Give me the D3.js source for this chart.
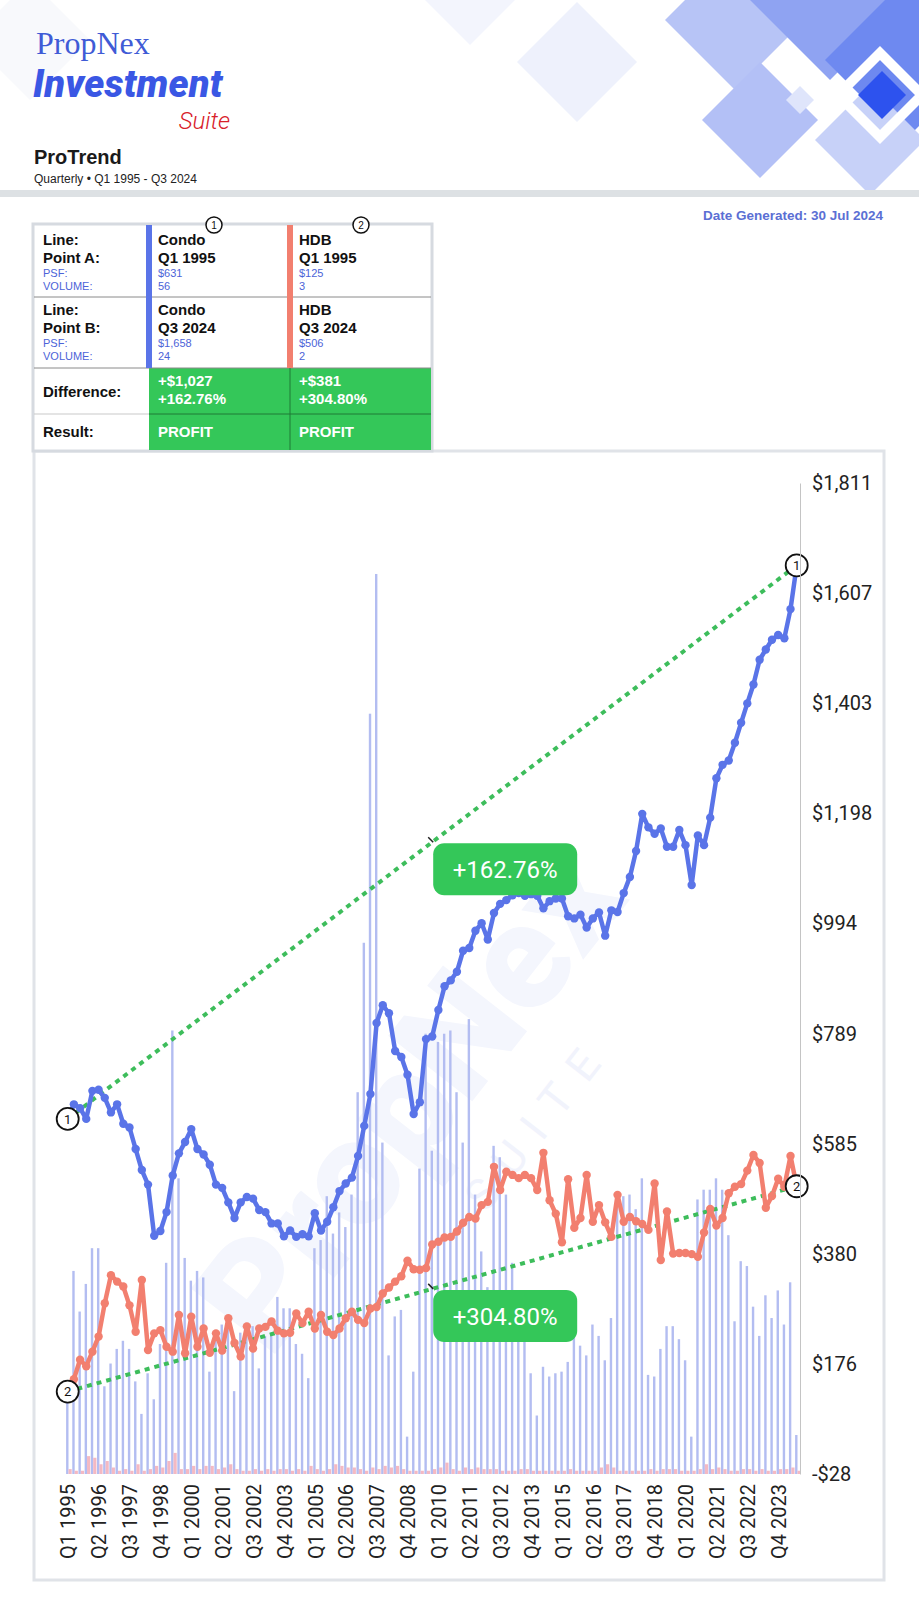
<!DOCTYPE html>
<html>
<head>
<meta charset="utf-8">
<script src="https://cdn.jsdelivr.net/npm/d3@7/dist/d3.min.js"></script>
<style>
  body { margin: 0; background: #fff; }
  svg { display: block; }
</style>
</head>
<body>
<div id="chart"></div>
<script>
// ---- data ----
var quarters = [
  "Q1 1995","Q2 1995","Q3 1995","Q4 1995","Q1 1996","Q2 1996","Q3 1996","Q4 1996",
  "Q1 1997","Q2 1997","Q3 1997","Q4 1997","Q1 1998","Q2 1998","Q3 1998","Q4 1998",
  "Q1 1999","Q2 1999","Q3 1999","Q4 1999","Q1 2000","Q2 2000","Q3 2000","Q4 2000",
  "Q1 2001","Q2 2001","Q3 2001","Q4 2001","Q1 2002","Q2 2002","Q3 2002","Q4 2002",
  "Q1 2003","Q2 2003","Q3 2003","Q4 2003","Q1 2004","Q2 2004","Q3 2004","Q4 2004",
  "Q1 2005","Q2 2005","Q3 2005","Q4 2005","Q1 2006","Q2 2006","Q3 2006","Q4 2006",
  "Q1 2007","Q2 2007","Q3 2007","Q4 2007","Q1 2008","Q2 2008","Q3 2008","Q4 2008",
  "Q1 2009","Q2 2009","Q3 2009","Q4 2009","Q1 2010","Q2 2010","Q3 2010","Q4 2010",
  "Q1 2011","Q2 2011","Q3 2011","Q4 2011","Q1 2012","Q2 2012","Q3 2012","Q4 2012",
  "Q1 2013","Q2 2013","Q3 2013","Q4 2013","Q1 2014","Q2 2014","Q3 2014","Q4 2014",
  "Q1 2015","Q2 2015","Q3 2015","Q4 2015","Q1 2016","Q2 2016","Q3 2016","Q4 2016",
  "Q1 2017","Q2 2017","Q3 2017","Q4 2017","Q1 2018","Q2 2018","Q3 2018","Q4 2018",
  "Q1 2019","Q2 2019","Q3 2019","Q4 2019","Q1 2020","Q2 2020","Q3 2020","Q4 2020",
  "Q1 2021","Q2 2021","Q3 2021","Q4 2021","Q1 2022","Q2 2022","Q3 2022","Q4 2022",
  "Q1 2023","Q2 2023","Q3 2023","Q4 2023","Q1 2024","Q2 2024","Q3 2024"
];

var condoPsf = [
  631,658,651,631,683,685,670,643,658,622,
  615,575,536,509,414,423,458,526,567,588,
  612,575,565,546,509,503,476,447,476,486,
  483,462,458,437,437,413,424,412,417,413,
  456,424,440,467,497,511,522,562,618,677,
  809,842,827,757,746,713,640,662,779,784,
  833,877,888,904,943,948,980,994,964,1013,
  1030,1037,1046,1050,1045,1048,1045,1022,1035,1040,
  1040,1007,1003,1010,986,1003,1014,971,1018,1015,
  1050,1080,1128,1197,1172,1160,1170,1136,1136,1167,
  1139,1065,1157,1139,1190,1263,1288,1296,1329,1366,
  1402,1437,1483,1502,1520,1529,1523,1577,1658
];

var hdbPsf = [
  125,148,184,172,199,227,289,341,329,320,
  285,236,332,202,233,239,208,199,267,196,
  264,208,242,197,233,201,261,215,190,246,
  205,242,245,255,238,233,234,270,252,273,
  242,267,236,230,242,261,273,258,252,279,
  282,307,318,329,339,368,352,351,354,398,
  403,411,412,422,438,449,446,471,477,542,
  499,533,527,521,527,521,499,568,480,455,
  402,519,429,447,527,440,471,439,412,490,
  440,449,441,436,425,511,369,459,381,382,
  382,380,375,420,464,433,447,493,505,510,
  535,564,549,466,488,520,505,562,506
];

var condoVol = [
  56,125,100,117,139,139,54,68,77,82,
  77,57,37,62,46,80,130,273,182,133,
  119,125,121,63,85,92,91,51,87,93,
  91,65,85,87,109,102,102,80,74,59,
  139,144,171,148,161,152,172,235,327,468,
  554,204,73,97,101,23,63,188,271,199,
  266,271,273,235,204,280,172,137,115,202,
  195,172,130,108,85,62,36,66,60,62,
  63,69,91,79,73,92,85,70,96,174,
  171,172,163,182,61,60,77,91,91,83,
  70,23,169,175,175,182,175,147,94,131,
  128,103,85,110,96,113,92,118,24
];

var hdbVol = [
  3,2,2,11,10,6,8,4,2,3,
  2,6,2,3,5,4,8,13,3,3,
  5,3,5,5,3,4,6,3,2,2,
  3,2,3,2,3,3,2,3,2,5,
  3,2,3,6,5,4,4,3,2,4,
  3,5,4,5,3,2,2,2,2,3,
  4,7,3,2,4,3,4,3,3,3,
  2,2,2,3,3,2,2,2,2,2,
  2,3,2,2,2,2,4,6,4,2,
  2,2,2,2,3,2,3,3,3,2,
  2,2,3,6,3,4,3,2,2,3,
  3,2,3,2,2,3,3,4,2
];

var xTickLabels = ["Q1 1995","Q2 1996","Q3 1997","Q4 1998","Q1 2000","Q2 2001","Q3 2002","Q4 2003",
  "Q1 2005","Q2 2006","Q3 2007","Q4 2008","Q1 2010","Q2 2011","Q3 2012","Q4 2013",
  "Q1 2015","Q2 2016","Q3 2017","Q4 2018","Q1 2020","Q2 2021","Q3 2022","Q4 2023"];
var yTickValues = [-28, 176, 380, 585, 789, 994, 1198, 1403, 1607, 1811];

// comparison table
var tableCols = [
  {num: "1", line: "Condo", a: "Q1 1995", psfA: "$631", volA: "56", b: "Q3 2024", psfB: "$1,658", volB: "24",
   diff: "+$1,027", pct: "+162.76%", result: "PROFIT"},
  {num: "2", line: "HDB", a: "Q1 1995", psfA: "$125", volA: "3", b: "Q3 2024", psfB: "$506", volB: "2",
   diff: "+$381", pct: "+304.80%", result: "PROFIT"}
];

var blue = "#5a74e8", salmon = "#f27f6f", green = "#34c759";

var width = 919, height = 1600;

var svg = d3.select("#chart").append("svg")
  .attr("width", width)
  .attr("height", height)
  .style("font-family", "Roboto, 'Liberation Sans', sans-serif");

// ---- header ----
var deco = svg.append("g");
var diamonds = [
  {cx: 577, cy: 62, r: 60, fill: "#eef1fc"},
  {cx: 470, cy: -5, r: 50, fill: "#f3f5fd"},
  {cx: 30, cy: 40, r: 60, fill: "#f8f9fc"},
  {cx: 735, cy: 20, r: 70, fill: "#b7c4f6"},
  {cx: 830, cy: 0, r: 80, fill: "#8fa3f2"},
  {cx: 760, cy: 120, r: 58, fill: "#b3c0f6"},
  {cx: 905, cy: 60, r: 80, fill: "#6e89f0"},
  {cx: 870, cy: 140, r: 55, fill: "#c7d1f8"},
  {cx: 880, cy: 95, r: 42, fill: "none", stroke: "#fff", sw: 10},
  {cx: 882, cy: 95, r: 24, fill: "#2d52ee"},
  {cx: 800, cy: 100, r: 14, fill: "#dfe5fb"}
];
deco.selectAll("path").data(diamonds).enter().append("path")
  .attr("d", function(d) {
    return "M" + (d.cx - d.r) + "," + d.cy + "L" + d.cx + "," + (d.cy - d.r) +
      "L" + (d.cx + d.r) + "," + d.cy + "L" + d.cx + "," + (d.cy + d.r) + "Z";
  })
  .attr("fill", function(d) { return d.fill; })
  .attr("stroke", function(d) { return d.stroke || "none"; })
  .attr("stroke-width", function(d) { return d.sw || 0; });

// logo
svg.append("text").attr("x", 36).attr("y", 54)
  .style("font-family", "'Liberation Serif', serif").style("font-size", "32px")
  .attr("fill", "#3f5bd6").text("PropNex");
svg.append("text").attr("x", 33).attr("y", 97)
  .style("font-family", "Roboto, sans-serif").style("font-size", "38px")
  .style("font-weight", 900).style("font-style", "italic").style("letter-spacing", "0.2px")
  .attr("fill", "#3a57e4").text("Investment");
svg.append("text").attr("x", 230).attr("y", 129).attr("text-anchor", "end")
  .style("font-family", "Roboto, sans-serif").style("font-size", "24px")
  .style("font-style", "italic").style("font-weight", 300)
  .attr("fill", "#d8202a").text("Suite");

svg.append("text").attr("x", 34).attr("y", 164)
  .style("font-family", "'Liberation Sans', Arial, sans-serif").style("font-size", "20px")
  .style("font-weight", "bold").attr("fill", "#1a1a1a").text("ProTrend");
svg.append("text").attr("x", 34).attr("y", 183)
  .style("font-family", "'Liberation Sans', Arial, sans-serif").style("font-size", "12px")
  .attr("fill", "#222").text("Quarterly \u2022 Q1 1995 - Q3 2024");

svg.append("rect").attr("x", 0).attr("y", 190).attr("width", width).attr("height", 7)
  .attr("fill", "#dde1e4");

svg.append("text").attr("x", 883).attr("y", 220).attr("text-anchor", "end")
  .style("font-family", "'Liberation Sans', Arial, sans-serif").style("font-size", "13.5px")
  .style("font-weight", "bold").attr("fill", "#5b6fd4").text("Date Generated: 30 Jul 2024");

// ---- chart panel ----
svg.append("rect").attr("x", 34).attr("y", 451).attr("width", 850).attr("height", 1129)
  .attr("fill", "#fff").attr("stroke", "#e0e3e8").attr("stroke-width", 3);

// watermark
var wm = svg.append("g").attr("transform", "translate(450,1130) rotate(-52)");
wm.append("text").attr("text-anchor", "middle")
  .style("font-family", "Roboto, sans-serif").style("font-size", "150px").style("font-weight", 900)
  .attr("fill", "#f4f6fd").text("PropNex");
wm.append("text").attr("text-anchor", "middle").attr("x", 60).attr("y", 80)
  .style("font-family", "Roboto, sans-serif").style("font-size", "44px").style("letter-spacing", "18px")
  .attr("fill", "#f1f3fc").text("SUITE");

// ---- scales ----
var x = d3.scalePoint().domain(quarters).range([67.7, 796.7]);
var y = d3.scaleLinear().domain([-28, 1811]).range([1474, 483]);
var yVol = d3.scaleLinear().domain([0, 610]).range([1474, 483]);

var plot = svg.append("g");

// volume bars
plot.selectAll(".vol").data(condoVol).enter().append("rect")
  .attr("class", "vol")
  .attr("x", function(d, i) { return x(quarters[i]) - 1.6; })
  .attr("y", function(d) { return yVol(d); })
  .attr("width", 2.4)
  .attr("height", function(d) { return yVol(0) - yVol(d); })
  .attr("fill", "#b3bdf1");

plot.selectAll(".hvol").data(hdbVol).enter().append("rect")
  .attr("class", "hvol")
  .attr("x", function(d, i) { return x(quarters[i]) + 0.8; })
  .attr("y", function(d) { return yVol(d); })
  .attr("width", 3.2)
  .attr("height", function(d) { return yVol(0) - yVol(d); })
  .attr("fill", "#f4b9c3");

// axes
var yAxis = d3.axisRight(y).tickValues(yTickValues).tickSize(0).tickPadding(12)
  .tickFormat(function(d) { return (d < 0 ? "-$" : "$") + d3.format(",")(Math.abs(d)); });
var gy = svg.append("g").attr("transform", "translate(800,0)").call(yAxis);
gy.select(".domain").attr("stroke", "#c4c4c4");
gy.selectAll("text").style("font-size", "20px").style("font-family", "Roboto, sans-serif").attr("fill", "#222");

var xAxis = d3.axisBottom(x).tickValues(xTickLabels).tickSize(0);
var gx = svg.append("g").attr("transform", "translate(0,1474)").call(xAxis);
gx.select(".domain").remove();
gx.selectAll("text")
  .attr("transform", "rotate(-90)")
  .attr("x", -10).attr("y", 0).attr("dy", "0.36em")
  .style("text-anchor", "end")
  .style("font-size", "20px").style("font-family", "Roboto, sans-serif").attr("fill", "#222");

// trend lines (point A to point B)
var trends = [
  {series: condoPsf, label: tableCols[0].pct, num: "1"},
  {series: hdbPsf, label: tableCols[1].pct, num: "2"}
];
var last = quarters.length - 1;
trends.forEach(function(t) {
  plot.append("line")
    .attr("x1", x(quarters[0])).attr("y1", y(t.series[0]))
    .attr("x2", x(quarters[last])).attr("y2", y(t.series[last]))
    .attr("stroke", "#3dbd5b").attr("stroke-width", 4).attr("stroke-dasharray", "5,5");
});

// price lines
var line = d3.line()
  .x(function(d, i) { return x(quarters[i]); })
  .y(function(d) { return y(d); });

[{data: hdbPsf, color: salmon}, {data: condoPsf, color: blue}].forEach(function(s) {
  var g = plot.append("g");
  g.append("path").datum(s.data)
    .attr("d", line).attr("fill", "none")
    .attr("stroke", s.color).attr("stroke-width", 4.5).attr("stroke-linejoin", "round");
  g.selectAll("circle").data(s.data).enter().append("circle")
    .attr("cx", function(d, i) { return x(quarters[i]); })
    .attr("cy", function(d) { return y(d); })
    .attr("r", 4.2).attr("fill", s.color);
});

// percentage labels at trend midpoints
trends.forEach(function(t) {
  var mx = (x(quarters[0]) + x(quarters[last])) / 2;
  var my = (y(t.series[0]) + y(t.series[last])) / 2;
  plot.append("line").attr("x1", mx - 4).attr("y1", my - 5).attr("x2", mx + 1).attr("y2", my)
    .attr("stroke", "#222").attr("stroke-width", 1.5);
  plot.append("rect").attr("x", mx + 1).attr("y", my + 1).attr("width", 144).attr("height", 52)
    .attr("rx", 11).attr("fill", green);
  plot.append("text").attr("x", mx + 73).attr("y", my + 27).attr("dy", "0.36em")
    .attr("text-anchor", "middle").attr("fill", "#fff")
    .style("font-size", "24px").style("font-family", "Roboto, sans-serif").text(t.label);
});

// numbered markers at both ends
trends.forEach(function(t) {
  [0, last].forEach(function(i) {
    var g = plot.append("g").attr("transform", "translate(" + x(quarters[i]) + "," + y(t.series[i]) + ")");
    g.append("circle").attr("r", 11).attr("fill", "#fff").attr("stroke", "#111").attr("stroke-width", 1.8);
    g.append("text").attr("text-anchor", "middle").attr("dy", "0.36em")
      .style("font-size", "13px").attr("fill", "#111").text(t.num);
  });
});

// ---- comparison table ----
var tbl = svg.append("g").style("font-family", "'Liberation Sans', Arial, sans-serif");
tbl.append("rect").attr("x", 33).attr("y", 224).attr("width", 399).attr("height", 227)
  .attr("fill", "#fff").attr("stroke", "#d6dae0").attr("stroke-width", 3);
tbl.append("rect").attr("x", 149).attr("y", 368).attr("width", 282).attr("height", 82).attr("fill", green);
[297, 368].forEach(function(yy) {
  tbl.append("line").attr("x1", 34).attr("x2", 431).attr("y1", yy).attr("y2", yy)
    .attr("stroke", "#8a8a8a").attr("stroke-width", 1);
});
tbl.append("line").attr("x1", 34).attr("x2", 149).attr("y1", 414).attr("y2", 414)
  .attr("stroke", "#c9c9c9").attr("stroke-width", 1);
tbl.append("line").attr("x1", 149).attr("x2", 431).attr("y1", 414).attr("y2", 414)
  .attr("stroke", "#1f7a36").attr("stroke-width", 1);
tbl.append("line").attr("x1", 290).attr("x2", 290).attr("y1", 368).attr("y2", 450)
  .attr("stroke", "#1f7a36").attr("stroke-width", 1);
tbl.append("rect").attr("x", 146).attr("y", 225).attr("width", 6).attr("height", 143).attr("fill", blue);
tbl.append("rect").attr("x", 287).attr("y", 225).attr("width", 6).attr("height", 143).attr("fill", salmon);

function bold(xx, yy, txt, col) {
  tbl.append("text").attr("x", xx).attr("y", yy).style("font-size", "15px").style("font-weight", "bold")
    .attr("fill", col || "#111").text(txt);
}
function small(xx, yy, txt) {
  tbl.append("text").attr("x", xx).attr("y", yy).style("font-size", "11px")
    .attr("fill", "#4c63d8").text(txt);
}
[0, 70].forEach(function(off, k) {
  bold(43, 245 + off, "Line:");
  bold(43, 263 + off, k === 0 ? "Point A:" : "Point B:");
  small(43, 277 + off, "PSF:");
  small(43, 290 + off, "VOLUME:");
});
bold(43, 397, "Difference:");
bold(43, 437, "Result:");

tableCols.forEach(function(c, k) {
  var cx = k === 0 ? 158 : 299;
  bold(cx, 245, c.line); bold(cx, 263, c.a); small(cx, 277, c.psfA); small(cx, 290, c.volA);
  bold(cx, 315, c.line); bold(cx, 333, c.b); small(cx, 347, c.psfB); small(cx, 360, c.volB);
  bold(cx, 386, c.diff, "#fff"); bold(cx, 404, c.pct, "#fff");
  bold(cx, 437, c.result, "#fff");
  var mk = tbl.append("g").attr("transform", "translate(" + (k === 0 ? 214 : 361) + ",225)");
  mk.append("circle").attr("r", 8).attr("fill", "#fff").attr("stroke", "#111").attr("stroke-width", 1.5);
  mk.append("text").attr("text-anchor", "middle").attr("dy", "0.36em").style("font-size", "10px")
    .attr("fill", "#111").text(c.num);
});
</script>
</body>
</html>
